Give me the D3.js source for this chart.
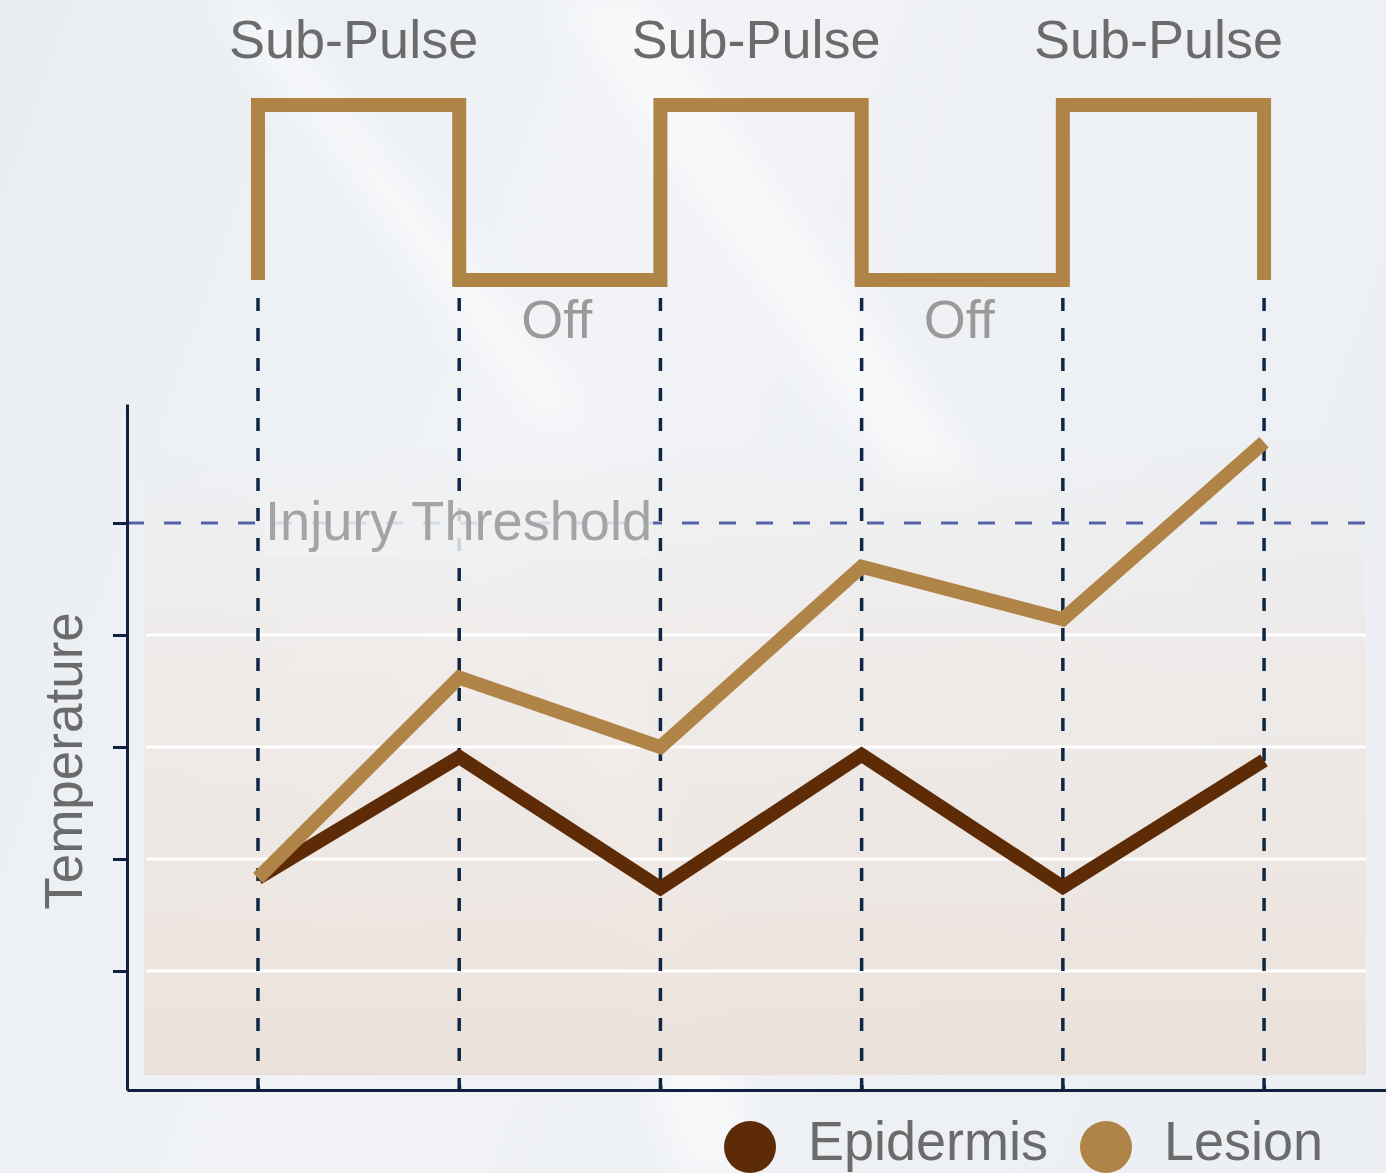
<!DOCTYPE html>
<html>
<head>
<meta charset="utf-8">
<script src="https://cdn.jsdelivr.net/npm/d3@7"></script>
<style>
    body { margin: 0; background: #eef1f4; }
    svg { display: block; }
    text { font-family: "Liberation Sans", Arial, sans-serif; }
</style>
</head>
<body>
<svg id="chart" width="1386" height="1173"></svg>
<script>
// data
var times = [0, 1, 2, 3, 4, 5];
var epidermis = [1.83, 2.91, 1.74, 2.93, 1.75, 2.88];
var lesion = [1.83, 3.62, 3.00, 4.61, 4.14, 5.72];
var threshold = 5;
var yTicks = [1, 2, 3, 4, 5];

// square wave: time / on-off level
var pulseTimes = [0, 0, 1, 2, 3, 4, 5];
var pulseLevels = [0, 1, 0, 1, 0, 1, 0];
var pulseLabels = [
    {t: 0.5, label: "Sub-Pulse"},
    {t: 2.5, label: "Sub-Pulse"},
    {t: 4.5, label: "Sub-Pulse"}
];
var offLabels = [
    {t: 1.5, label: "Off"},
    {t: 3.5, label: "Off"}
];
var legendLabels = [
    {label: "Epidermis", color: "#5e2b07"},
    {label: "Lesion", color: "#b08447"}
];

var width = 1386,
    height = 1173;

var svg = d3.select("#chart");
var defs = svg.append("defs");

// background
var bg = defs.append("linearGradient")
    .attr("id", "bg")
    .attr("x1", 0).attr("y1", 0).attr("x2", 1).attr("y2", 0.3);
bg.append("stop").attr("offset", "0%").attr("stop-color", "#e8edf2");
bg.append("stop").attr("offset", "45%").attr("stop-color", "#f1f3f6");
bg.append("stop").attr("offset", "100%").attr("stop-color", "#eceff3");

var band = defs.append("linearGradient")
    .attr("id", "band")
    .attr("x1", 0).attr("y1", 0).attr("x2", 0).attr("y2", 1);
band.append("stop").attr("offset", "0%").attr("stop-color", "#efe7e1").attr("stop-opacity", 0);
band.append("stop").attr("offset", "30%").attr("stop-color", "#efe7e1").attr("stop-opacity", 0.5);
band.append("stop").attr("offset", "100%").attr("stop-color", "#ebe1da").attr("stop-opacity", 1);

defs.append("filter")
    .attr("id", "blur")
    .attr("x", "-50%").attr("y", "-50%").attr("width", "200%").attr("height", "200%")
    .append("feGaussianBlur")
    .attr("stdDeviation", 18);

svg.append("rect")
    .attr("width", width)
    .attr("height", height)
    .attr("fill", "url(#bg)");

// soft light streaks
var streaks = [
    [[215, 0], [265, 0], [590, 420], [540, 420]],
    [[560, 0], [640, 0], [980, 480], [900, 480]],
    [[560, 700], [640, 700], [760, 1173], [680, 1173]]
];
svg.append("g")
    .selectAll("polygon")
    .data(streaks)
    .enter().append("polygon")
    .attr("points", function(d) { return d.join(" "); })
    .attr("fill", "#ffffff")
    .attr("opacity", 0.55)
    .attr("filter", "url(#blur)");

// scales
var x = d3.scaleLinear()
    .domain([-0.651, 5.606])
    .range([127, 1386]);

var y = d3.scaleLinear()
    .domain([-0.0625, 6.0625])
    .range([1090, 404]);

var yPulse = d3.scaleLinear()
    .domain([0, 1])
    .range([280, 105]);

// plot band
svg.append("rect")
    .attr("x", 144)
    .attr("y", y(5.75))
    .attr("width", 1366 - 144)
    .attr("height", y(0.07) - y(5.75))
    .attr("fill", "url(#band)");

// white grid lines
svg.append("g")
    .attr("class", "grid")
    .selectAll("line")
    .data(yTicks.slice(0, 4))
    .enter().append("line")
    .attr("x1", 146)
    .attr("x2", 1366)
    .attr("y1", function(d) { return y(d); })
    .attr("y2", function(d) { return y(d); })
    .attr("stroke", "#ffffff")
    .attr("stroke-width", 3);

// injury threshold
svg.append("line")
    .attr("x1", x.range()[0])
    .attr("x2", 1372)
    .attr("y1", y(threshold))
    .attr("y2", y(threshold))
    .attr("stroke", "#5562a8")
    .attr("stroke-width", 3)
    .attr("stroke-dasharray", "17,20");

// vertical dashed guides
svg.append("g")
    .attr("class", "guides")
    .selectAll("line")
    .data(times)
    .enter().append("line")
    .attr("x1", function(d) { return x(d); })
    .attr("x2", function(d) { return x(d); })
    .attr("y1", 1091)
    .attr("y2", 287)
    .attr("stroke", "#0e2745")
    .attr("stroke-width", 3.5)
    .attr("stroke-dasharray", "13,17");

// threshold label with a backing box
svg.append("rect")
    .attr("x", 263)
    .attr("y", 492)
    .attr("width", 390)
    .attr("height", 64)
    .attr("fill", "#eff1f2")
    .attr("opacity", 0.85);

svg.append("text")
    .attr("x", 265)
    .attr("y", y(threshold) + 17)
    .attr("font-size", 55)
    .attr("fill", "#a4a4a4")
    .attr("textLength", 387)
    .attr("lengthAdjust", "spacingAndGlyphs")
    .text("Injury Threshold");

// axes
var yAxis = svg.append("g")
    .attr("class", "axis axis--y")
    .attr("transform", "translate(" + x.range()[0] + ",0)")
    .call(d3.axisLeft(y).tickValues(yTicks).tickSize(14).tickSizeOuter(0).tickFormat(""));

var xAxis = svg.append("g")
    .attr("class", "axis axis--x")
    .attr("transform", "translate(0," + y.range()[0] + ")")
    .call(d3.axisBottom(x).tickValues(times).tickSize(-5).tickSizeOuter(0).tickFormat(""));

svg.selectAll(".axis path, .axis line")
    .attr("stroke", "#0e2240")
    .attr("stroke-width", 3);

// temperature lines
var line = d3.line()
    .x(function(d, i) { return x(times[i]); })
    .y(function(d) { return y(d); });

svg.append("path")
    .datum(epidermis)
    .attr("d", line)
    .attr("fill", "none")
    .attr("stroke", "#5e2b07")
    .attr("stroke-width", 14)
    .attr("stroke-linejoin", "miter");

svg.append("path")
    .datum(lesion)
    .attr("d", line)
    .attr("fill", "none")
    .attr("stroke", "#b08447")
    .attr("stroke-width", 14)
    .attr("stroke-linejoin", "miter");

// pulse train
var pulseLine = d3.line()
    .x(function(d, i) { return x(pulseTimes[i]); })
    .y(function(d) { return yPulse(d); })
    .curve(d3.curveStepAfter);

svg.append("path")
    .datum(pulseLevels)
    .attr("d", pulseLine)
    .attr("fill", "none")
    .attr("stroke", "#b08447")
    .attr("stroke-width", 14)
    .attr("stroke-linejoin", "miter")
    .attr("stroke-linecap", "butt");

svg.append("g")
    .selectAll("text")
    .data(pulseLabels)
    .enter().append("text")
    .attr("x", function(d) { return x(d.t) - 5; })
    .attr("y", 58)
    .attr("text-anchor", "middle")
    .attr("font-size", 54)
    .attr("fill", "#6b6b6b")
    .text(function(d) { return d.label; });

svg.append("g")
    .selectAll("text")
    .data(offLabels)
    .enter().append("text")
    .attr("x", function(d) { return x(d.t) - 3; })
    .attr("y", 338)
    .attr("text-anchor", "middle")
    .attr("font-size", 54)
    .attr("fill", "#9a9a9a")
    .text(function(d) { return d.label; });

// y label
svg.append("text")
    .attr("transform", "translate(82,761) rotate(-90)")
    .attr("text-anchor", "middle")
    .attr("font-size", 53)
    .attr("fill", "#6b6b6b")
    .text("Temperature");

// legend
var legend = svg.append("g").attr("class", "legend");
var legendX = [750, 1106];
var legendW = [240, 159];

legend.selectAll("circle")
    .data(legendLabels)
    .enter().append("circle")
    .attr("cx", function(d, i) { return legendX[i]; })
    .attr("cy", 1147)
    .attr("r", 26)
    .attr("fill", function(d) { return d.color; });

legend.selectAll("text")
    .data(legendLabels)
    .enter().append("text")
    .attr("x", function(d, i) { return legendX[i] + 58; })
    .attr("y", 1160)
    .attr("font-size", 56)
    .attr("fill", "#6b6b6b")
    .attr("textLength", function(d, i) { return legendW[i]; })
    .attr("lengthAdjust", "spacingAndGlyphs")
    .text(function(d) { return d.label; });
</script>
</body>
</html>
